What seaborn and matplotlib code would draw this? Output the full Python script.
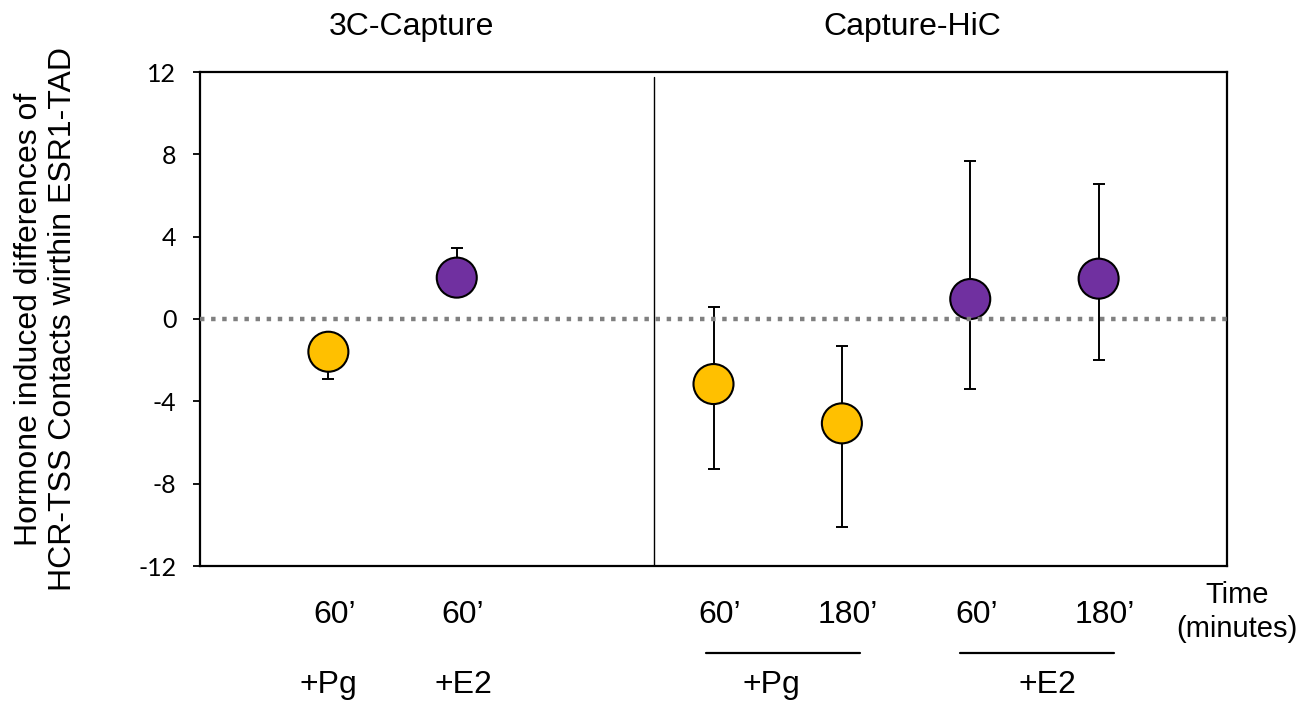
import matplotlib
matplotlib.use("Agg")
import matplotlib.pyplot as plt
import matplotlib.transforms as mtransforms
import seaborn as sns
import pandas as pd
import numpy as np

# ---- data ----
assay = ["3C-Capture", "3C-Capture", "Capture-HiC", "Capture-HiC", "Capture-HiC", "Capture-HiC"]
treatment = ["+Pg", "+E2", "+Pg", "+Pg", "+E2", "+E2"]
time_labels = ["60\u2019", "60\u2019", "60\u2019", "180\u2019", "60\u2019", "180\u2019"]
diff = [-1.59, 2.01, -3.16, -5.07, 0.97, 1.96]
err_low = [1.34, 0.0, 4.11, 5.02, 4.39, 3.95]
err_high = [0.0, 1.43, 3.76, 3.76, 6.69, 4.58]
y_ticks = [-12, -8, -4, 0, 4, 8, 12]
colors = {"+Pg": "#FFC000", "+E2": "#7030A0"}

# ---- layout ----
x_pos = [1, 2, 4, 5, 6, 7]

sns.set_theme(style="white")
plt.rcParams["font.family"] = ["Liberation Sans", "DejaVu Sans"]
plt.rcParams["text.color"] = "black"
plt.rcParams["ytick.color"] = "black"
plt.rcParams["ytick.labelcolor"] = "black"

df = pd.DataFrame({"x": x_pos, "diff": diff, "treatment": treatment,
                   "assay": assay, "time": time_labels})

fig = plt.figure(figsize=(13.14, 7.04), dpi=100)
ax = fig.add_axes([200/1314, 1-566/704, 1027/1314, 494/704])

ax.errorbar(df["x"], df["diff"], yerr=[err_low, err_high], fmt="none",
            ecolor="black", elinewidth=1.4, capsize=4.3, capthick=1.4, zorder=2)
sns.scatterplot(data=df, x="x", y="diff", hue="treatment", palette=colors,
                s=830, edgecolor="black", linewidth=1.5, legend=False, ax=ax, zorder=3)
ax.axhline(0, color="#808080", lw=3.2, ls=(0, (1.0, 1.5)), zorder=4)
ax.axvline(3.54, ymin=0, ymax=0.99, color="black", lw=1.0, zorder=1)

ax.set_xlim(0, 8)
ax.set_ylim(-12, 12)
ax.set_yticks(y_ticks)
ax.set_yticklabels([str(t) for t in y_ticks], fontfamily="Lato", fontsize=18, color="black")
ax.set_xticks([])
ax.set_xlabel("")
ax.set_ylabel("")
ax.tick_params(axis="y", direction="out", length=5, width=1.3, color="black", pad=12, left=True)
for sp in ax.spines.values():
    sp.set_visible(True)
    sp.set_color("black")
    sp.set_linewidth(1.6)

tr = mtransforms.blended_transform_factory(ax.transData, ax.transAxes)
fs = 23
for xp, t in zip(x_pos, time_labels):
    ax.text(xp + 0.05, -0.1154, t, transform=tr, ha="center", va="baseline", fontsize=fs)

# treatment labels for 3C-Capture (individual)
ax.text(1.0, -0.257, treatment[0], transform=tr, ha="center", va="baseline", fontsize=fs)
ax.text(2.05, -0.257, treatment[1], transform=tr, ha="center", va="baseline", fontsize=fs)
# grouped treatment labels for Capture-HiC
for (x0, x1, xt, lab) in [(3.94, 5.14, 4.45, treatment[2]), (5.92, 7.12, 6.6, treatment[4])]:
    ax.plot([x0, x1], [-0.1755, -0.1755], transform=tr, color="black", lw=1.6, clip_on=False)
    ax.text(xt, -0.257, lab, transform=tr, ha="center", va="baseline", fontsize=fs)

ax.text(8.08, -0.0749, "Time", transform=tr, ha="center", va="baseline", fontsize=21)
ax.text(8.08, -0.1437, "(minutes)", transform=tr, ha="center", va="baseline", fontsize=21)

ax.text(1.65, 1.0749, assay[0], transform=tr, ha="center", va="baseline", fontsize=fs)
ax.text(5.55, 1.0749, assay[2], transform=tr, ha="center", va="baseline", fontsize=fs)

fig.text(46/1314, 1-319/704, "Hormone induced differences of\nHCR-TSS Contacts wirthin ESR1-TAD",
         rotation=90, ha="center", va="center", fontsize=23, linespacing=1.2,
         multialignment="center")

fig.savefig("out.png", dpi=100)
